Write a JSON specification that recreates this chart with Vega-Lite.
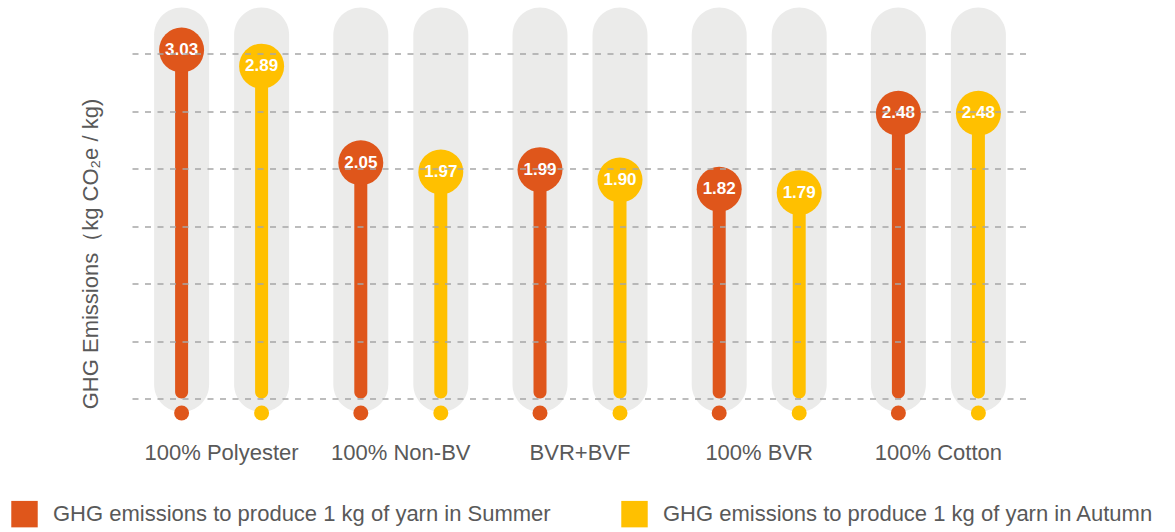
{
  "$schema": "https://vega.github.io/schema/vega-lite/v6.json",
  "autosize": {"type": "none"},
  "width": 896,
  "height": 414,
  "padding": {"left": 132, "top": 7.5, "right": 147, "bottom": 110.5},
  "background": "white",
  "config": {
    "font": "Liberation Sans",
    "view": {"stroke": null}
  },
  "data": {
    "values": [
      {"material": "100% Polyester", "season": "Summer", "value": 3.03},
      {"material": "100% Polyester", "season": "Autumn", "value": 2.89},
      {"material": "100% Non-BV", "season": "Summer", "value": 2.05},
      {"material": "100% Non-BV", "season": "Autumn", "value": 1.97},
      {"material": "BVR+BVF", "season": "Summer", "value": 1.99},
      {"material": "BVR+BVF", "season": "Autumn", "value": 1.90},
      {"material": "100% BVR", "season": "Summer", "value": 1.82},
      {"material": "100% BVR", "season": "Autumn", "value": 1.79},
      {"material": "100% Cotton", "season": "Summer", "value": 2.48},
      {"material": "100% Cotton", "season": "Autumn", "value": 2.48}
    ]
  },
  "encoding": {
    "x": {
      "field": "material",
      "type": "nominal",
      "sort": ["100% Polyester", "100% Non-BV", "BVR+BVF", "100% BVR", "100% Cotton"],
      "scale": {"paddingInner": 0, "paddingOuter": 0},
      "axis": {
        "title": null,
        "domain": false,
        "ticks": false,
        "labelAngle": 0,
        "labelFontSize": 22,
        "labelColor": "#595959",
        "labelPadding": 21,
        "labelBaseline": "top"
      }
    },
    "xOffset": {
      "field": "season",
      "type": "nominal",
      "sort": ["Summer", "Autumn"],
      "scale": {"paddingInner": 0, "paddingOuter": 0.12}
    }
  },
  "layer": [
    {
      "mark": {"type": "bar", "width": 55, "cornerRadius": 27.5, "color": "#ebebea", "zindex": 0},
      "encoding": {
        "y": {
          "datum": 3.4,
          "type": "quantitative",
          "scale": {"domain": [-0.2, 3.4], "nice": false, "zero": false},
          "axis": {
            "values": [0, 0.5, 1, 1.5, 2, 2.5, 3],
            "grid": true,
            "gridDash": [6, 6.5],
            "gridColor": "#a6a6a6",
            "gridWidth": 1.3,
            "labels": false,
            "ticks": false,
            "domain": false,
            "zindex": 1,
            "title": "GHG Emissions（kg CO₂e / kg)",
            "titleFontSize": 22,
            "titleFontWeight": "normal",
            "titleColor": "#595959",
            "titlePadding": 30,
            "titleY": 246
          }
        },
        "y2": {"datum": -0.117}
      }
    },
    {
      "mark": {"type": "bar", "width": 13, "cornerRadius": 6.5, "zindex": 2},
      "encoding": {
        "y": {"field": "value", "type": "quantitative"},
        "y2": {"datum": 0},
        "color": {"field": "season", "type": "nominal"}
      }
    },
    {
      "mark": {"type": "point", "filled": true, "opacity": 1, "shape": "circle", "size": 2025, "zindex": 2},
      "encoding": {
        "y": {"field": "value", "type": "quantitative"},
        "color": {
          "field": "season",
          "type": "nominal",
          "sort": ["Summer", "Autumn"],
          "scale": {"domain": ["Summer", "Autumn"], "range": ["#df561b", "#ffc000"]},
          "legend": {
            "title": null,
            "orient": "none",
            "legendX": -121,
            "legendY": 493,
            "direction": "horizontal",
            "symbolType": "square",
            "symbolSize": 700,
            "symbolStrokeWidth": 0,
            "symbolOpacity": 1,
            "labelFontSize": 22,
            "labelColor": "#595959",
            "labelOffset": 15,
            "labelLimit": 700,
            "columnPadding": 70,
            "labelExpr": "'GHG emissions to produce 1 kg of yarn in ' + datum.label"
          }
        }
      }
    },
    {
      "mark": {"type": "text", "color": "white", "fontSize": 17, "fontWeight": "bold", "align": "center", "baseline": "middle", "zindex": 3},
      "encoding": {
        "y": {"field": "value", "type": "quantitative"},
        "text": {"field": "value", "type": "quantitative", "format": ".2f"}
      }
    },
    {
      "mark": {"type": "point", "filled": true, "opacity": 1, "shape": "circle", "size": 225, "zindex": 2},
      "encoding": {
        "y": {"datum": -0.126, "type": "quantitative"},
        "color": {"field": "season", "type": "nominal"}
      }
    }
  ]
}
